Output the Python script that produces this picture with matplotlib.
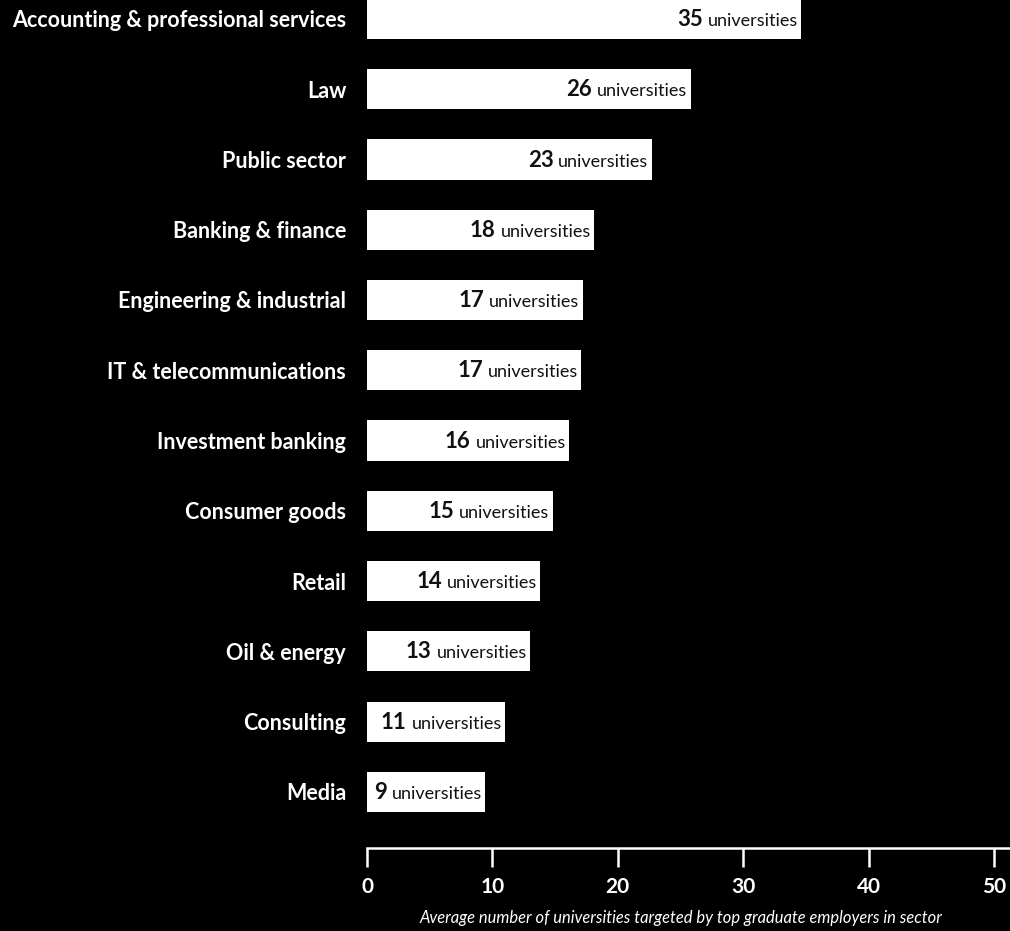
import matplotlib
matplotlib.use("Agg")
import matplotlib.pyplot as plt

# sectors, top to bottom
sectors = ["Accounting & professional services", "Law", "Public sector",
           "Banking & finance", "Engineering & industrial", "IT & telecommunications",
           "Investment banking", "Consumer goods", "Retail", "Oil & energy",
           "Consulting", "Media"]
# average number of universities targeted
avg_unis = [34.6, 25.8, 22.7, 18.1, 17.2, 17.1, 16.1, 14.8, 13.8, 13.0, 11.0, 9.4]
value_labels = ["35", "26", "23", "18", "17", "17", "16", "15", "14", "13", "11", "9"]
xticks = [0, 10, 20, 30, 40, 50]

plt.rcParams['font.family'] = ['Lato', 'DejaVu Sans']

fig = plt.figure(figsize=(10.10, 9.31), dpi=100, facecolor="black")
ax = fig.add_axes([367 / 1010, 83 / 931, 627 / 1010, 848 / 931])
ax.set_facecolor("black")

ypos = list(range(len(sectors)))
ax.barh(ypos, avg_unis, height=0.57, color="white", edgecolor="none")

ax.set_xlim(0, 50)
ax.set_ylim(11.8, -0.27)

for y, v, lab in zip(ypos, avg_unis, value_labels):
    uni = ax.text(v - 0.25, y + 0.1, "universities", ha="right", va="baseline",
                  fontsize=13, color="#111111")
    ax.annotate(lab, xy=(0, y + 0.1), xycoords=(uni, "data"),
                xytext=(-3.5, 0), textcoords="offset points",
                ha="right", va="baseline", fontsize=16, fontweight="bold",
                color="#111111")

ax.set_yticks(ypos)
ax.set_yticklabels(sectors, fontsize=15.5, fontweight="bold", color="white")
ax.tick_params(axis="y", length=0, pad=15)

ax.set_xticks(xticks)
ax.set_xticklabels([str(t) for t in xticks], fontsize=15, fontweight="bold", color="white")
ax.tick_params(axis="x", direction="out", length=14, width=1.8, color="white", pad=7)

for s in ["top", "right", "left"]:
    ax.spines[s].set_visible(False)
ax.spines["bottom"].set_color("white")
ax.spines["bottom"].set_linewidth(1.8)
ax.spines["bottom"].set_bounds(0, 51.5)

ax.set_xlabel("Average number of universities targeted by top graduate employers in sector",
              fontsize=11.9, style="italic", color="white", labelpad=9)

fig.savefig("out.png", dpi=100, facecolor="black")
